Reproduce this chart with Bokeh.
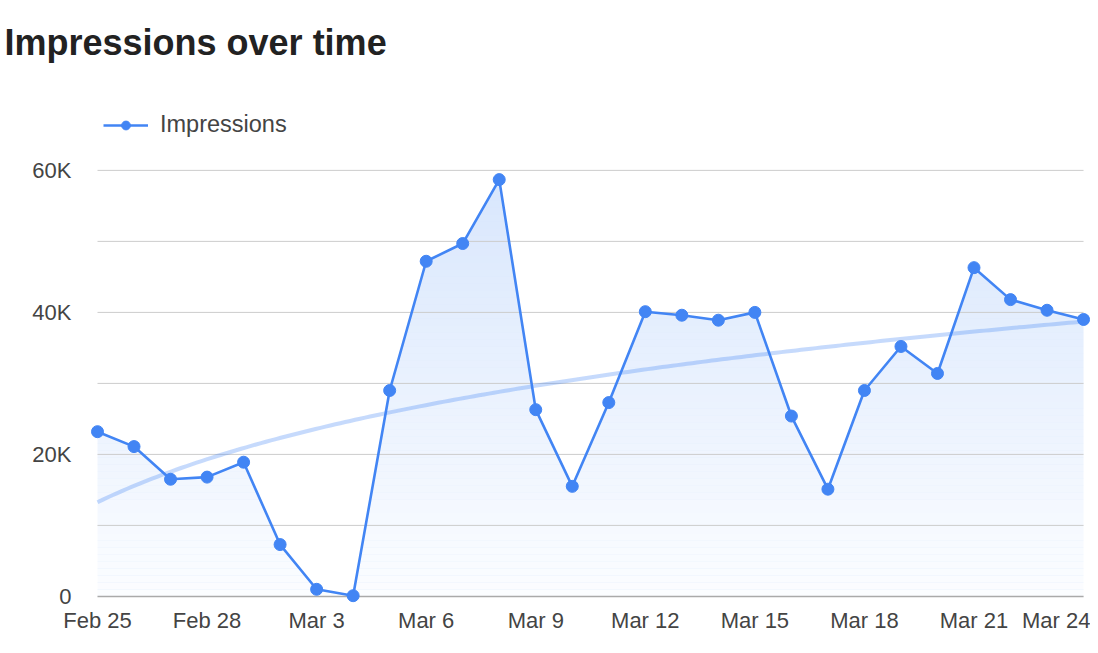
import numpy as np
from bokeh.plotting import figure
from bokeh.models import Range1d, FixedTicker, Legend, LegendItem
from bokeh.embed import file_html
from bokeh.resources import INLINE

# ---- data ----
dates = ["Feb 25", "Feb 26", "Feb 27", "Feb 28", "Mar 1", "Mar 2", "Mar 3",
         "Mar 4", "Mar 5", "Mar 6", "Mar 7", "Mar 8", "Mar 9", "Mar 10",
         "Mar 11", "Mar 12", "Mar 13", "Mar 14", "Mar 15", "Mar 16", "Mar 17",
         "Mar 18", "Mar 19", "Mar 20", "Mar 21", "Mar 22", "Mar 23", "Mar 24"]
impressions = [23200, 21100, 16500, 16800, 18900, 7300, 1000,
               100, 29000, 47200, 49700, 58700, 26300, 15500,
               27300, 40100, 39600, 38900, 40000, 25400, 15100,
               29000, 35200, 31400, 46300, 41800, 40300, 39000]
x_tick_labels = ["Feb 25", "Feb 28", "Mar 3", "Mar 6", "Mar 9", "Mar 12",
                 "Mar 15", "Mar 18", "Mar 21", "Mar 24"]
y_ticks = [0, 20000, 40000, 60000]
y_tick_labels = ["0", "20K", "40K", "60K"]
grid_values = [10000, 20000, 30000, 40000, 50000, 60000]

BLUE = "#4285f4"
FONT = "Liberation Sans"

x = np.arange(len(dates))
y = np.array(impressions, dtype=float)
x_tick_idx = [dates.index(d) for d in x_tick_labels]

# logarithmic trendline fitted to the data
L = np.log(x + 6.0)
b, a = np.polyfit(L, y, 1)
xt = np.linspace(0, len(dates) - 1, 200)
yt = a + b * np.log(xt + 6.0)

p = figure(width=1090, height=640, output_backend="svg", toolbar_location=None,
           x_range=Range1d(-0.4929, 27.19), y_range=Range1d(-1000, 72660),
           min_border_left=79, min_border_right=0, min_border_bottom=37,
           min_border_top=80)
p.outline_line_color = None
p.grid.visible = False
p.background_fill_color = "white"
p.border_fill_color = "white"

# area fill with vertical gradient (white veil bands over a blue fill)
p.varea(x=x, y1=0, y2=y, fill_color=BLUE, fill_alpha=0.2)
n = 60
top = float(y.max())
for k in range(n):
    f = (k + 0.5) / n
    p.quad(left=-1, right=len(dates), bottom=top * k / n, top=top * (k + 1) / n,
           fill_color="white", fill_alpha=0.9 * (1 - f), line_color=None)

# gridlines and baseline
p.segment(x0=[0] * len(grid_values), x1=[len(dates) - 1] * len(grid_values),
          y0=grid_values, y1=grid_values, line_color="#cccccc", line_width=1)
p.segment(x0=[0], x1=[len(dates) - 1], y0=[0], y1=[0],
          line_color="#aaaaaa", line_width=1.5)

# trendline
p.line(xt, yt, line_color=BLUE, line_alpha=0.3, line_width=4)

# series
lr = p.line(x, y, line_color=BLUE, line_width=2.6)
sr = p.scatter(x, y, size=12, fill_color=BLUE, line_color=BLUE)

legend = Legend(items=[LegendItem(label="Impressions", renderers=[lr, sr])],
                location=(24, 465), padding=0, margin=0, border_line_alpha=0,
                background_fill_alpha=0, glyph_width=45, glyph_height=22,
                label_standoff=12, label_text_font_size="23.5px",
                label_text_font=FONT, label_text_color="#444444")
p.add_layout(legend)

for ax in (p.xaxis[0], p.yaxis[0]):
    ax.axis_line_color = None
    ax.major_tick_line_color = None
    ax.minor_tick_line_color = None
    ax.major_label_text_font = FONT
    ax.major_label_text_font_size = "22px"
    ax.major_label_text_color = "#444444"

p.xaxis.ticker = FixedTicker(ticks=x_tick_idx)
p.xaxis.major_label_overrides = {i: t for i, t in zip(x_tick_idx, x_tick_labels)}
p.xaxis.major_label_standoff = -2
p.yaxis.ticker = FixedTicker(ticks=y_ticks)
p.yaxis.major_label_overrides = {v: t for v, t in zip(y_ticks, y_tick_labels)}
p.yaxis.major_label_standoff = 2

p.title.text = "Impressions over time"
p.title.text_font = FONT
p.title.text_font_size = "36px"
p.title.text_font_style = "bold"
p.title.text_color = "#222222"
p.title.align = "left"
p.title.vertical_align = "top"
p.title.text_line_height = 0.6
p.title.offset = -75
p.title.standoff = 32

open("out.html", "w").write(file_html(p, INLINE))
